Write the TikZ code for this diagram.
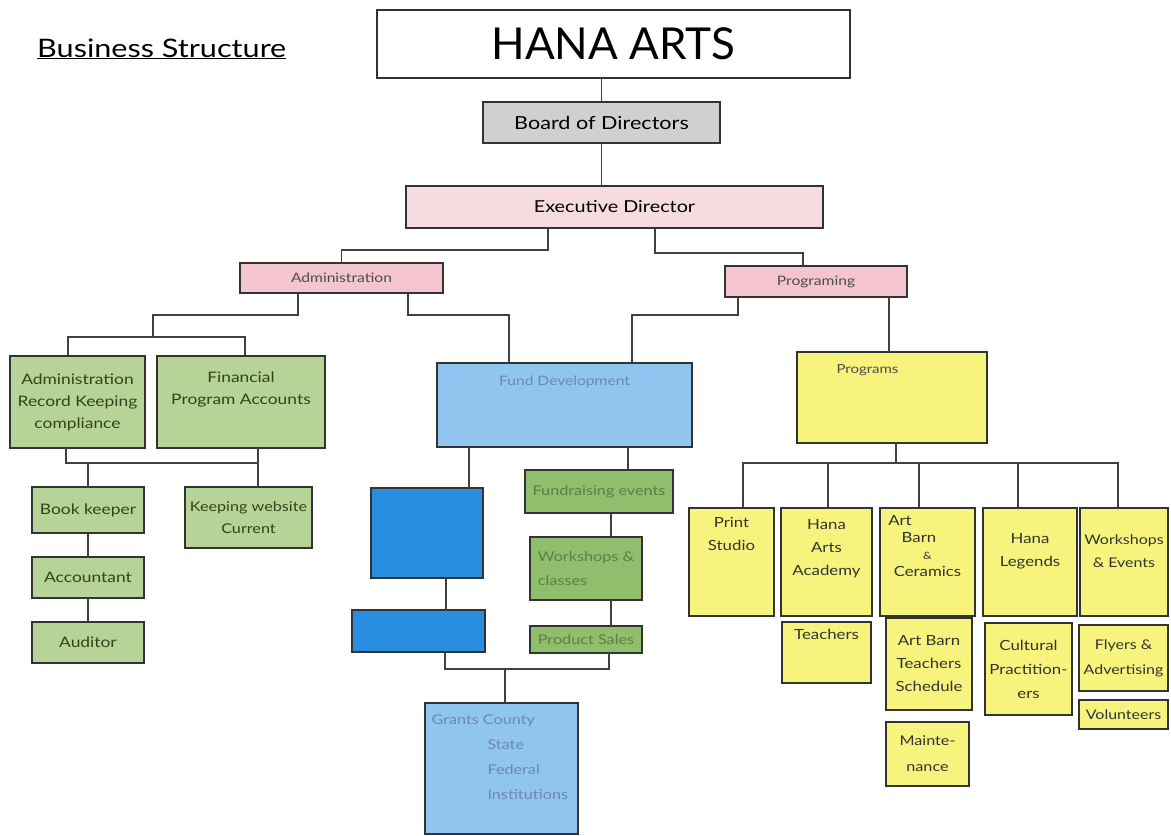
\documentclass[tikz,border=0pt]{standalone}
\usepackage{fontspec}
\setmainfont{Lato}[FakeStretch=1.2]
\newfontfamily\hanafont{Lato}
\newcommand{\fs}[2]{\fontsize{#1}{#2}\selectfont}
\newcommand{\bx}[7]{\node[#6, minimum width={#4-#2}, minimum height={#5-#3}] (#1) at ({(#2+#4)/2},{(#3+#5)/2}) {#7};}
\definecolor{lgreenc}{HTML}{B6D497}
\definecolor{dgreenc}{HTML}{8FBE6C}
\definecolor{yellowc}{HTML}{F6F47C}
\definecolor{lbluec}{HTML}{90C5F0}
\definecolor{dbluec}{HTML}{2A8EE0}
\definecolor{pinkc}{HTML}{F6DCE1}
\definecolor{pinkdc}{HTML}{F4C5CE}
\definecolor{grayc}{HTML}{D0D0D0}
\definecolor{olivetext}{HTML}{34421C}
\definecolor{fadeblue}{HTML}{6C89AC}
\definecolor{fadegreen}{HTML}{5E7E48}
\begin{document}
\begin{tikzpicture}[x=1pt,y=-1pt,
  box/.style={draw=black!80, line width=1.4pt, inner sep=2pt, outer sep=0pt, align=center},
  whitebox/.style={box, fill=white},
  graybox/.style={box, fill=grayc, font=\fs{18}{20}},
  pinkbox/.style={box, fill=pinkc, font=\fs{16.5}{19}},
  pinkdbox/.style={box, fill=pinkdc, font=\fs{13}{15}\color{black!70}},
  lgbox/.style={box, fill=lgreenc, font=\fs{14.5}{22}\color{olivetext}},
  dgbox/.style={box, fill=dgreenc, font=\fs{13.5}{24}\color{fadegreen}},
  ybox/.style={box, fill=yellowc, font=\fs{14}{23}\color{black!80}},
  lbbox/.style={box, fill=lbluec},
  dbbox/.style={box, fill=dbluec},
  ylab/.style={align=center, font=\fs{14}{23}\color{black!80}},
  conn/.style={draw=black!75, line width=1.3pt}]
\useasboundingbox (0,0) rectangle (1171,836);

% title
\node[anchor=base west, inner sep=0pt] (title) at (37,57) {\fs{25.5}{28}\underline{Business Structure}};

% top hierarchy
\bx{hana}{377}{10}{850}{78}{whitebox, font=\hanafont\fs{44}{48}}{HANA ARTS}
\bx{board}{483}{102}{720}{143}{graybox}{Board of Directors}
\bx{exec}{406}{186}{823}{228}{pinkbox}{Executive Director}
\bx{admin}{240}{263}{443}{293}{pinkdbox}{Administration}
\bx{prog}{725}{266}{907}{297}{pinkdbox}{Programing}

% administration side
\bx{arec}{10}{356}{145}{448}{lgbox}{Administration\\Record Keeping\\compliance}
\bx{fin}{157}{356}{325}{448}{lgbox, label={[anchor=north, yshift=-12pt, align=center, font=\fs{14.5}{22}\color{olivetext}]north:Financial\\Program Accounts}}{}
\bx{book}{32}{487}{144}{533}{lgbox}{Book keeper}
\bx{web}{185}{487}{312}{548}{lgbox, font=\fs{13.5}{22}\color{olivetext}}{Keeping website\\Current}
\bx{acct}{32}{557}{144}{598}{lgbox}{Accountant}
\bx{aud}{32}{622}{144}{663}{lgbox}{Auditor}

% fund development
\bx{fund}{437}{363}{692}{447}{lbbox, label={[anchor=north, yshift=-9pt, font=\fs{13}{15}\color{fadeblue}]north:Fund Development}}{}
\bx{db1}{371}{488}{483}{578}{dbbox}{}
\bx{db2}{352}{610}{485}{652}{dbbox}{}
\bx{fre}{525}{470}{673}{513}{dgbox}{Fundraising events}
\bx{wsc}{530}{537}{642}{600}{dgbox, align=left}{Workshops \&\\classes}
\bx{ps}{530}{626}{642}{653}{dgbox, font=\fs{13.5}{15}\color{fadegreen}}{Product Sales}
\bx{grants}{425}{703}{578}{834}{lbbox, label={[anchor=north west, xshift=3pt, yshift=-8pt, align=left, font=\fs{13.5}{25}\color{fadeblue}]north west:Grants County\\\hspace*{56pt}State\\\hspace*{56pt}Federal\\\hspace*{56pt}Institutions}}{}

% programs
\bx{progs}{797}{352}{987}{443}{ybox, label={[anchor=north west, xshift=36pt, yshift=-9pt, font=\fs{12.5}{14}\color{black!70}]north west:Programs}}{}
\bx{print}{689}{508}{774}{616}{ybox, label={[ylab, yshift=28pt]center:Print\\Studio}}{}
\bx{acad}{781}{508}{872}{616}{ybox, label={[ylab, yshift=13pt]center:Hana\\Arts\\Academy}}{}
\bx{barn}{880}{508}{975}{616}{ybox, label={[ylab, yshift=16pt, font=\fs{14}{17}\color{black!80}]center:\hspace*{-55pt}Art\\\hspace*{-17pt}Barn\\{\fs{10}{10}\&}\\Ceramics}}{}
\bx{leg}{983}{508}{1077}{616}{ybox, label={[ylab, yshift=11pt]center:Hana\\Legends}}{}
\bx{ws}{1080}{508}{1168}{616}{ybox, label={[ylab, yshift=11pt, font=\fs{13.3}{23}\color{black!80}]center:Workshops\\\& Events}}{}
\bx{teach}{782}{622}{871}{683}{ybox, label={[ylab, anchor=north, yshift=-4pt]north:Teachers}}{}
\bx{barnt}{886}{618}{972}{710}{ybox}{Art Barn\\Teachers\\Schedule}
\bx{maint}{886}{722}{969}{786}{ybox, font=\fs{13.5}{26}\color{black!80}}{Mainte-\\nance}
\bx{cult}{985}{623}{1072}{715}{ybox, font=\fs{14}{24}\color{black!80}}{Cultural\\Practition-\\ers}
\bx{fly}{1079}{625}{1168}{691}{ybox, font=\fs{13.3}{25}\color{black!80}}{Flyers \&\\Advertising}
\bx{vol}{1079}{700}{1168}{729}{ybox, font=\fs{13.3}{15}\color{black!80}}{Volunteers}

% helper coordinates
\foreach \v in {548,655,803,298,408,153,68,245,509,738,632,889,896,743,828,919,1018,1118,66,258,88,469,628,446,611,445,609,505} {\coordinate (x\v) at (\v,0);}
\foreach \v in {250,253,315,337,463,669} {\coordinate (y\v) at (0,\v);}

% connectors
\draw[conn] (board.north |- hana.south) -- (board.north);
\draw[conn] (board.south) -- (board.south |- exec.north);
\draw[conn] (exec.south -| x548) -- (x548 |- y250) -| (admin.north);
\draw[conn] (exec.south -| x655) -- (x655 |- y253) -| (prog.north -| x803);
\draw[conn] (admin.south -| x298) -- (x298 |- y315) -| (x153 |- y337);
\draw[conn] (arec.north -| x68) |- (x245 |- y337) -- (fin.north -| x245);
\draw[conn] (admin.south -| x408) -- (x408 |- y315) -| (fund.north -| x509);
\draw[conn] (prog.south -| x738) -- (x738 |- y315) -| (fund.north -| x632);
\draw[conn] (prog.south -| x889) -- (progs.north -| x889);
\draw[conn] (progs.south -| x896) -- (x896 |- y463);
\draw[conn] (print.north -| x743) |- (x1118 |- y463) -- (ws.north -| x1118);
\draw[conn] (x828 |- y463) -- (acad.north -| x828);
\draw[conn] (x919 |- y463) -- (barn.north -| x919);
\draw[conn] (x1018 |- y463) -- (leg.north -| x1018);
% admin lower
\draw[conn] (arec.south -| x66) |- (x258 |- y463);
\draw[conn] (fin.south -| x258) -- (web.north -| x258);
\draw[conn] (x88 |- y463) -- (book.north -| x88);
\draw[conn] (book.south -| x88) -- (acct.north -| x88);
\draw[conn] (acct.south -| x88) -- (aud.north -| x88);
% fund development lower
\draw[conn] (fund.south -| x469) -- (db1.north -| x469);
\draw[conn] (db1.south -| x446) -- (db2.north -| x446);
\draw[conn] (fund.south -| x628) -- (fre.north -| x628);
\draw[conn] (fre.south -| x611) -- (wsc.north -| x611);
\draw[conn] (wsc.south -| x611) -- (ps.north -| x611);
\draw[conn] (db2.south -| x445) |- (x609 |- y669) -- (ps.south -| x609);
\draw[conn] (x505 |- y669) -- (grants.north -| x505);
\end{tikzpicture}
\end{document}
